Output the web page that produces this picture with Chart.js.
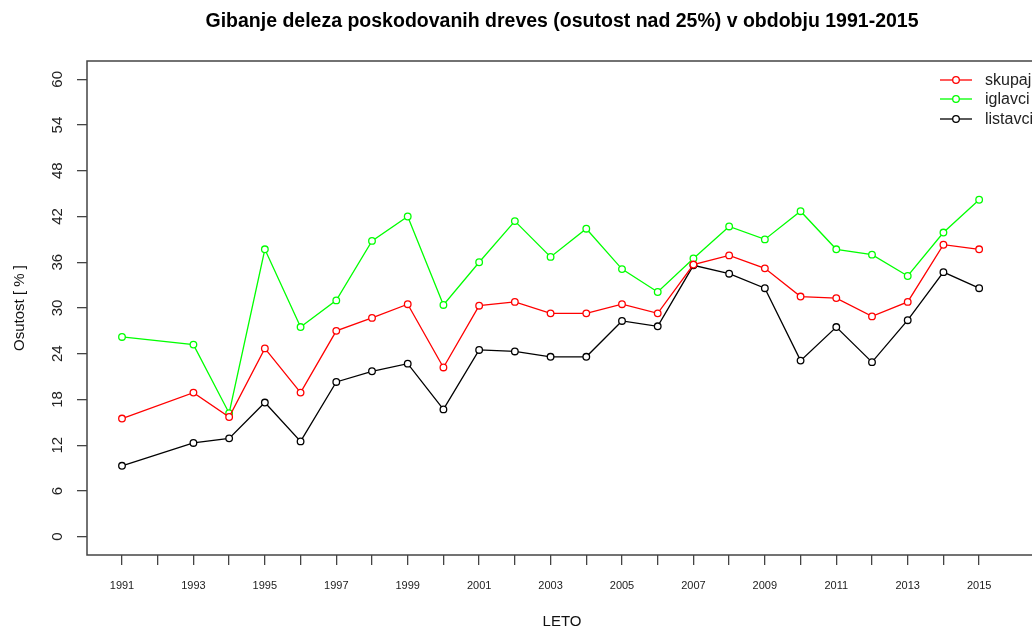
<!DOCTYPE html>
<html>
<head>
<meta charset="utf-8">
<script src="https://cdn.jsdelivr.net/npm/chart.js@4.4.1/dist/chart.umd.min.js"></script>
<style>
  html, body { margin: 0; padding: 0; background: #fff; overflow: hidden; }
  #okno { width: 1124px; height: 631px; }
</style>
</head>
<body>
<div id="okno"><canvas id="myChart" width="1124" height="631"></canvas></div>
<script>
// Podatki (odcitano s slike), leto 1992 manjka
const leta = [1991, 1993, 1994, 1995, 1996, 1997, 1998, 1999, 2000, 2001, 2002, 2003,
              2004, 2005, 2006, 2007, 2008, 2009, 2010, 2011, 2012, 2013, 2014, 2015]
const skupaj = [15.5, 18.9, 15.7, 24.7, 18.9, 27.0, 28.7, 30.5, 22.2, 30.3, 30.8, 29.3,
                29.3, 30.5, 29.3, 35.7, 36.9, 35.2, 31.5, 31.3, 28.9, 30.8, 38.3, 37.7]
const iglavci = [26.2, 25.2, 16.2, 37.7, 27.5, 31.0, 38.8, 42.0, 30.4, 36.0, 41.4, 36.7,
                 40.4, 35.1, 32.1, 36.5, 40.7, 39.0, 42.7, 37.7, 37.0, 34.2, 39.9, 44.2]
const listavci = [9.3, 12.3, 12.9, 17.6, 12.5, 20.3, 21.7, 22.7, 16.7, 24.5, 24.3, 23.6,
                  23.6, 28.3, 27.6, 35.6, 34.5, 32.6, 23.1, 27.5, 22.9, 28.4, 34.7, 32.6]
const oznakeX = [1991, 1992, 1993, 1994, 1995, 1996, 1997, 1998, 1999, 2000, 2001, 2002, 2003,
                 2004, 2005, 2006, 2007, 2008, 2009, 2010, 2011, 2012, 2013, 2014, 2015]
const oznakeY = [0, 6, 12, 18, 24, 30, 36, 42, 48, 54, 60]

const pisava = "'Liberation Sans', Arial, sans-serif"

// Funkcije
const vTocke = (vrednosti) => leta.map((leto, i) => ({ x: leto, y: vrednosti[i] }))

function serija(ime, vrednosti, barva) {
    return {
        label: ime,
        data: vTocke(vrednosti),
        borderColor: barva,
        backgroundColor: barva,
        borderWidth: 1.3,
        pointRadius: 3.3,
        pointBorderWidth: 1.3,
        pointBorderColor: barva,
        pointBackgroundColor: "#ffffff",
        tension: 0
    }
}

// okvir okoli risalne povrsine
const okvir = {
    id: "okvir",
    afterDraw(chart) {
        const { ctx, chartArea } = chart
        ctx.save()
        ctx.strokeStyle = "#444"
        ctx.lineWidth = 1.5
        ctx.strokeRect(chartArea.left, chartArea.top, chartArea.right - chartArea.left, chartArea.bottom - chartArea.top)
        ctx.restore()
    }
}

// navpicne oznake na osi y
const oznakeOsiY = {
    id: "oznakeOsiY",
    afterDraw(chart) {
        const { ctx, chartArea } = chart
        const os = chart.scales.y
        ctx.save()
        ctx.fillStyle = "#222"
        ctx.font = "15px " + pisava
        ctx.textAlign = "center"
        ctx.textBaseline = "middle"
        for (const tick of os.ticks) {
            const y = os.getPixelForValue(tick.value)
            ctx.save()
            ctx.translate(chartArea.left - 29.5, y)
            ctx.rotate(-Math.PI / 2)
            ctx.fillText(String(tick.value), 0, 0)
            ctx.restore()
        }
        ctx.restore()
    }
}

// legenda zgoraj desno
const legenda = {
    id: "legenda",
    afterDraw(chart) {
        const { ctx, chartArea } = chart
        const vrstice = [19, 38, 58]
        ctx.save()
        ctx.font = "16px " + pisava
        ctx.textBaseline = "middle"
        ctx.textAlign = "left"
        chart.data.datasets.forEach((ds, i) => {
            const y = chartArea.top + vrstice[i]
            const x0 = chartArea.right - 97
            ctx.strokeStyle = ds.borderColor
            ctx.lineWidth = 1.3
            ctx.beginPath()
            ctx.moveTo(x0, y)
            ctx.lineTo(x0 + 32, y)
            ctx.stroke()
            ctx.fillStyle = "#fff"
            ctx.beginPath()
            ctx.arc(x0 + 16, y, 3.3, 0, Math.PI * 2)
            ctx.fill()
            ctx.stroke()
            ctx.fillStyle = "#222"
            ctx.fillText(ds.label, x0 + 45, y + 1)
        })
        ctx.restore()
    }
}

const config = {
    type: "line",
    data: {
        datasets: [
            serija("skupaj", skupaj, "#ff0000"),
            serija("iglavci", iglavci, "#00ff00"),
            serija("listavci", listavci, "#000000")
        ]
    },
    options: {
        responsive: false,
        animation: false,
        layout: { padding: { left: 0, right: 0, top: 0, bottom: 0 } },
        plugins: {
            legend: { display: false },
            tooltip: { enabled: false },
            title: {
                display: true,
                text: "Gibanje deleza poskodovanih dreves (osutost nad 25%) v obdobju 1991-2015",
                color: "#000",
                font: { family: pisava, size: 19.5, weight: "bold" },
                padding: { top: 10.3, bottom: 27.3 }
            }
        },
        scales: {
            x: {
                type: "linear",
                min: 1990.02,
                max: 2016.62,
                afterBuildTicks: (s) => { s.ticks = oznakeX.map(v => ({ value: v })) },
                afterFit: (s) => { s.height = 76 },
                grid: { drawOnChartArea: false, drawTicks: true, tickLength: 10, color: "#444", lineWidth: 1.3 },
                border: { display: false },
                ticks: {
                    autoSkip: false, maxRotation: 0, minRotation: 0, padding: 14,
                    color: "#222", font: { family: pisava, size: 11 },
                    callback: (v) => v % 2 === 1 ? String(v) : ""
                },
                title: {
                    display: true, text: "LETO", color: "#111",
                    font: { family: pisava, size: 15 }, padding: { top: 0, bottom: 0 }
                }
            },
            y: {
                min: -2.4,
                max: 62.4,
                afterBuildTicks: (s) => { s.ticks = oznakeY.map(v => ({ value: v })) },
                afterFit: (s) => { s.width = 87 },
                grid: { drawOnChartArea: false, drawTicks: true, tickLength: 10, color: "#444", lineWidth: 1.3 },
                border: { display: false },
                ticks: { display: false },
                title: {
                    display: true, text: "Osutost [ % ]", color: "#111",
                    font: { family: pisava, size: 15 }, padding: { top: 11, bottom: 0 }
                }
            },
            // prazna desna os, da je naslov sredinski glede na risalno povrsino
            desno: {
                position: "right",
                display: true,
                afterFit: (s) => { s.width = 87 },
                grid: { display: false },
                border: { display: false },
                ticks: { display: false }
            }
        }
    },
    plugins: [okvir, oznakeOsiY, legenda]
}

const myChart = new Chart(document.querySelector("#myChart").getContext("2d"), config)
</script>
</body>
</html>
